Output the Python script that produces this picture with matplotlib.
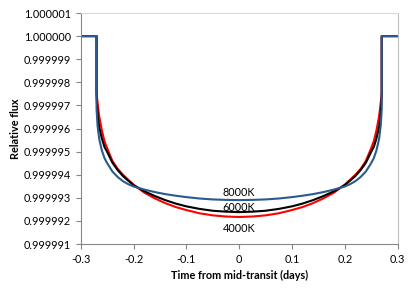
import numpy as np
import matplotlib
matplotlib.use("Agg")
import matplotlib.pyplot as plt
from matplotlib.ticker import FuncFormatter

# half of the transit (t <= 0); curves are symmetric
t_half = [-0.3, -0.27, -0.27, -0.269, -0.268, -0.265, -0.26, -0.255, -0.25,
          -0.24, -0.23, -0.22, -0.21, -0.2, -0.18, -0.16, -0.14, -0.12, -0.1,
          -0.075, -0.05, -0.025, 0.0]

flux_4000 = [1.0, 1.0, 0.99999760, 0.99999730, 0.99999710, 0.99999653,
             0.99999592, 0.99999545, 0.99999515, 0.99999460, 0.99999425,
             0.99999400, 0.99999378, 0.99999357, 0.99999323, 0.99999298,
             0.99999277, 0.99999260, 0.99999247, 0.99999233, 0.99999224,
             0.99999219, 0.99999217]

flux_6000 = [1.0, 1.0, 0.99999740, 0.99999700, 0.99999660, 0.99999605,
             0.99999557, 0.99999520, 0.99999499, 0.99999452, 0.99999420,
             0.99999394, 0.99999374, 0.99999355, 0.99999329, 0.99999308,
             0.99999290, 0.99999275, 0.99999263, 0.99999252, 0.99999244,
             0.99999240, 0.99999238]

flux_8000 = [1.0, 1.0, 0.99999685, 0.99999645, 0.99999610, 0.99999555,
             0.99999505, 0.99999472, 0.99999450, 0.99999414, 0.99999390,
             0.99999372, 0.99999359, 0.99999349, 0.99999336, 0.99999325,
             0.99999316, 0.99999309, 0.99999303, 0.99999297, 0.99999293,
             0.99999291, 0.99999290]

labels = ["4000K", "6000K", "8000K"]
label_y = [0.99999169, 0.99999256, 0.99999321]
colors = ["#FF0000", "#000000", "#2B5A8C"]


def full_curve(half):
    half = list(half)
    return np.array(half + half[-2::-1])


t = np.array(list(t_half) + [-v for v in t_half[-2::-1]])

plt.rcParams['font.family'] = ['Lato', 'DejaVu Sans']

fig = plt.figure(figsize=(4.15, 2.93), dpi=100)
ax = fig.add_axes([0.1945, 0.1672, 0.7635, 0.7884])

for fl, c in zip([flux_4000, flux_6000, flux_8000], colors):
    ax.plot(t, full_curve(fl), color=c, lw=1.5, solid_joinstyle='round')

for lab, y in zip(labels, label_y):
    ax.text(0.0, y, lab, ha='center', va='center', fontsize=7.8)

ax.set_xlim(-0.3, 0.3)
ax.set_ylim(0.999991, 1.000001)
ax.set_xticks(np.arange(-0.3, 0.31, 0.1))
ax.set_yticks(np.linspace(0.999991, 1.000001, 11))
ax.xaxis.set_major_formatter(FuncFormatter(lambda v, p: '0' if abs(v) < 1e-9 else '%.1f' % v))
ax.yaxis.set_major_formatter(FuncFormatter(lambda v, p: '%.6f' % v))
ax.tick_params(axis='both', labelsize=7.8, length=3.5, width=0.8,
               color='#868686', direction='out')

for s in ['left', 'bottom']:
    ax.spines[s].set_color('#868686')
ax.spines['top'].set_color('#D9D9D9')
ax.spines['right'].set_color('#BFBFBF')

ax.set_xlabel('Time from mid-transit (days)', fontsize=7.8, fontweight='bold')
ax.set_ylabel('Relative flux', fontsize=7.8, fontweight='bold')
ax.yaxis.set_label_coords(-0.19, 0.5)

fig.savefig('out.png', dpi=100)
